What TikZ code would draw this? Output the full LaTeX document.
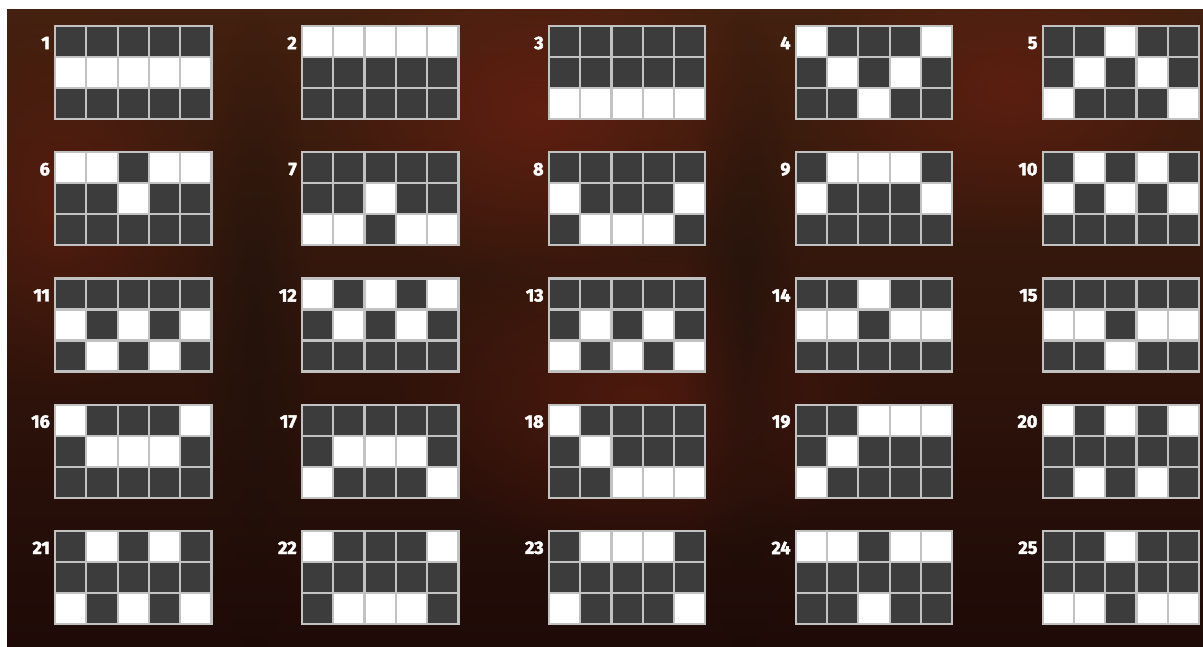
\documentclass[tikz,border=0pt]{standalone}
\usepackage{fontspec}
\newfontfamily\numfont[BoldFeatures={FakeBold=2.5}]{Fira Sans}
\usetikzlibrary{fadings}
\definecolor{bgtop}{HTML}{43200F}
\definecolor{bgbot}{HTML}{1E0A07}
\definecolor{bgred}{HTML}{6E2012}
\definecolor{bgdark}{HTML}{1C120C}
\definecolor{offgray}{HTML}{3C3C3C}
\definecolor{gridgray}{HTML}{C2C2C2}
\tikzfading[name=glow,inner color=transparent!0,outer color=transparent!100]
\tikzset{
  offcell/.style={fill=offgray},
  oncell/.style={fill=white},
  gridline/.style={draw=gridgray,line width=2.2pt},
  numlabel/.style={anchor=east,inner sep=0pt,text=white,
    font=\numfont\bfseries\fontsize{18}{18}\selectfont},
}
\begin{document}
\begin{tikzpicture}[x=1pt,y=-1pt]
\useasboundingbox (0,0) rectangle (1203,646);
\fill[white] (0,0) rectangle (1203,646);
% background
\shade[top color=bgtop,bottom color=bgbot] (7,9) rectangle (1203,646);
\begin{scope}
\clip (7,9) rectangle (1203,646);
\fill[bgred,opacity=0.7,path fading=glow] (540,110) ellipse (230 and 170);
\fill[bgred,opacity=0.6,path fading=glow] (1010,90) ellipse (220 and 150);
\fill[bgred,opacity=0.5,path fading=glow] (640,400) ellipse (260 and 160);
\fill[bgred,opacity=0.5,path fading=glow] (60,200) ellipse (150 and 200);
\fill[bgdark,opacity=0.6,path fading=glow] (255,330) ellipse (60 and 320);
\fill[bgdark,opacity=0.6,path fading=glow] (745,330) ellipse (60 and 320);
\end{scope}
% paylines: number / white row of reels 1..5 (0 top, 1 middle, 2 bottom)
\foreach \n/\a/\b/\c/\d/\e [count=\i from 0] in {%
  1/1/1/1/1/1, 2/0/0/0/0/0, 3/2/2/2/2/2, 4/0/1/2/1/0, 5/2/1/0/1/2,
  6/0/0/1/0/0, 7/2/2/1/2/2, 8/1/2/2/2/1, 9/1/0/0/0/1, 10/1/0/1/0/1,
  11/1/2/1/2/1, 12/0/1/0/1/0, 13/2/1/2/1/2, 14/1/1/0/1/1, 15/1/1/2/1/1,
  16/0/1/1/1/0, 17/2/1/1/1/2, 18/0/1/2/2/2, 19/2/1/0/0/0, 20/0/2/0/2/0,
  21/2/0/2/0/2, 22/0/2/2/2/0, 23/2/0/0/0/2, 24/0/0/2/0/0, 25/2/2/0/2/2} {
  \pgfmathtruncatemacro\col{mod(\i,5)}
  \pgfmathtruncatemacro\row{div(\i,5)}
  \pgfmathsetmacro\gx{55+246.9*\col}
  \pgfmathsetmacro\gy{26+126.2*\row}
  \begin{scope}[shift={(\gx,\gy)}]
    \foreach \w [count=\k from 0] in {\a,\b,\c,\d,\e} {
      \foreach \r in {0,1,2} {
        \ifnum\r=\w\relax\def\cellstyle{oncell}\else\def\cellstyle{offcell}\fi
        \fill[\cellstyle] (\k*31.3,\r*31) rectangle ++(31.3,31);
      }
    }
    \foreach \k in {1,...,4}
      \draw[gridline] (\k*31.3,0) -- (\k*31.3,93);
    \foreach \r in {1,2}
      \draw[gridline] (0,\r*31) -- (156.5,\r*31);
    \draw[gridline] (0,0) rectangle (156.5,93);
    \node[numlabel] (num\n) at (-5,17) {\n};
  \end{scope}
}
\end{tikzpicture}
\end{document}
